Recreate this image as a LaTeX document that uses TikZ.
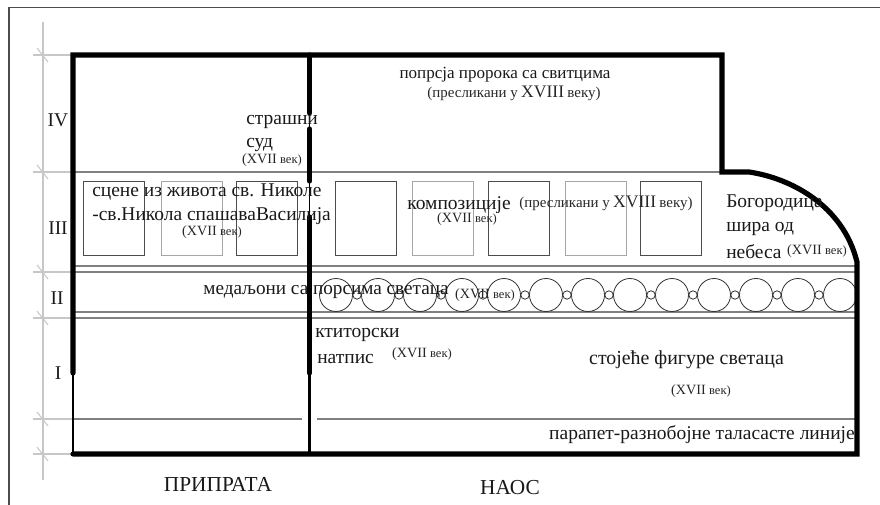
\documentclass[tikz,border=0pt]{standalone}
\usepackage{fontspec}
\setmainfont{Liberation Serif}
\newcommand{\agelabel}{{\fontsize{10.6}{11}\selectfont(XVII} {\fontsize{9.4}{11}\selectfont век)}}
\newcommand{\oldlabel}{{\fontsize{11.2}{11}\selectfont(пресликани у} {\fontsize{13.2}{11}\selectfont XVIII} {\fontsize{11.2}{11}\selectfont веку)}}
\tikzset{
  wall/.style={line width=3.9pt,line cap=round},
  thinwall/.style={line width=2.2pt},
  hairwall/.style={line width=1.1pt},
  grayline/.style={draw=black!50,line width=1.1pt},
  dimline/.style={draw=black!22,line width=0.8pt},
  darkbox/.style={draw=black!70,line width=0.7pt},
  lightbox/.style={draw=black!35,line width=0.7pt},
  bigtext/.style={inner sep=0pt,text=black!90,font=\fontsize{14.6}{15}\selectfont},
  smalltext/.style={inner sep=0pt,text=black!85},
}
\begin{document}
\begin{tikzpicture}[x=0.75pt,y=0.75pt,yscale=-1,xscale=1]
\useasboundingbox (0,0) rectangle (880,505);

%frame
\draw[draw=black!70,line width=0.9pt] (9,505) -- (9,7.5) -- (880,7.5);

%dimension line and ticks
\draw[dimline] (43,22) -- (43,480);
\foreach \ypos in {55,172,272,318,419,454}{
  \draw[dimline] (33,\ypos) -- (73,\ypos);
  \draw[dimline] (37,\ypos-7) -- (48,\ypos+7);
}

%horizontal bands
\draw[grayline] (73,172) -- (722,172);
\draw[grayline] (73,266) -- (857,266);
\draw[grayline] (73,272) -- (857,272);
\draw[grayline] (73,312) -- (857,312);
\draw[grayline] (73,318) -- (857,318);
\draw[grayline] (73,419) -- (302,419);
\draw[grayline] (317,419) -- (857,419);

%panels
\foreach \xpos/\boxstyle in {83/darkbox,161/lightbox,236/darkbox,335/darkbox,412/lightbox,488/darkbox,565/lightbox,640/darkbox}{
  \draw[\boxstyle] (\xpos,181) rectangle (\xpos+61,255);
}

%medallions
\foreach \xpos in {336,378,...,840}{
  \draw[draw=black!80,line width=0.6pt] (\xpos,295) circle (16.5);
}
\foreach \xpos in {357,399,...,819}{
  \draw[draw=black!80,line width=0.6pt] (\xpos,295) circle (4.2);
}

%walls
\draw[wall] (73,373) -- (73,55) -- (722,55) -- (722,172) -- (749,172)
  .. controls (790,178) and (843,205) .. (857,262) -- (857,454) -- (73,454);
\draw[thinwall] (73,373) -- (73,454);
\draw[wall] (309.5,55) -- (309.5,113);
\draw[wall] (309.5,129) -- (309.5,181);
\draw[wall] (309.5,217) -- (309.5,373);
\draw[hairwall] (309.5,113) -- (309.5,129);
\draw[hairwall] (309.5,181) -- (309.5,217);
\draw[thinwall] (309.5,373) -- (309.5,454);

%levels
\node[bigtext] (levelfour) at (58,120) {IV};
\node[bigtext] (levelthree) at (58,228) {III};
\node[bigtext] (leveltwo) at (57,298) {II};
\node[bigtext] (levelone) at (58,373) {I};

%texts
\node[bigtext,anchor=west] (sudone) at (246,122) {страшни};
\node[bigtext,anchor=west] (sudtwo) at (246,145) {суд};
\node[smalltext] (sudage) at (272,160) {\agelabel};
\node[bigtext,font=\fontsize{12.8}{13}\selectfont] (prorok) at (505,75) {попрсја пророка са свитцима};
\node[smalltext] (prorokage) at (514,93) {\oldlabel};
\node[bigtext,anchor=west] (scenea) at (92,192) {сцене из живота св. Николе};
\node[bigtext,anchor=west] (sceneb) at (92,216) {-св.Никола спашаваВасилија};
\node[smalltext] (sceneage) at (212,232) {\agelabel};
\node[bigtext] (kompo) at (459,205) {композиције};
\node[smalltext] (kompoage) at (467,219) {\agelabel};
\node[smalltext] (kompoold) at (606,203) {\oldlabel};
\node[bigtext,anchor=west] (bogone) at (726,203) {Богородица};
\node[bigtext,anchor=west] (bogtwo) at (726,229) {шира од};
\node[bigtext,anchor=west] (bogthree) at (726,252) {небеса};
\node[smalltext] (bogage) at (817,251) {\agelabel};
\node[bigtext,font=\fontsize{14.4}{15}\selectfont] (medal) at (326,292) {медаљони са порсима светаца};
\node[smalltext] (medalage) at (485,295) {\agelabel};
\node[bigtext,anchor=west] (ktitorone) at (315,335) {ктиторски};
\node[bigtext,anchor=west] (ktitortwo) at (317,359) {натпис};
\node[smalltext] (ktitorage) at (422,354) {\agelabel};
\node[bigtext,font=\fontsize{14.9}{15}\selectfont] (figures) at (686.5,360) {стојеће фигуре светаца};
\node[smalltext] (figuresage) at (701,391) {\agelabel};
\node[bigtext,anchor=east] (parapet) at (855,435) {парапет-разнобојне таласасте линије};
\node[bigtext,font=\fontsize{16}{16}\selectfont] (pripr) at (218,484) {ПРИПРАТА};
\node[bigtext,font=\fontsize{16}{16}\selectfont] (naos) at (510,488) {НАОС};
\end{tikzpicture}
\end{document}
